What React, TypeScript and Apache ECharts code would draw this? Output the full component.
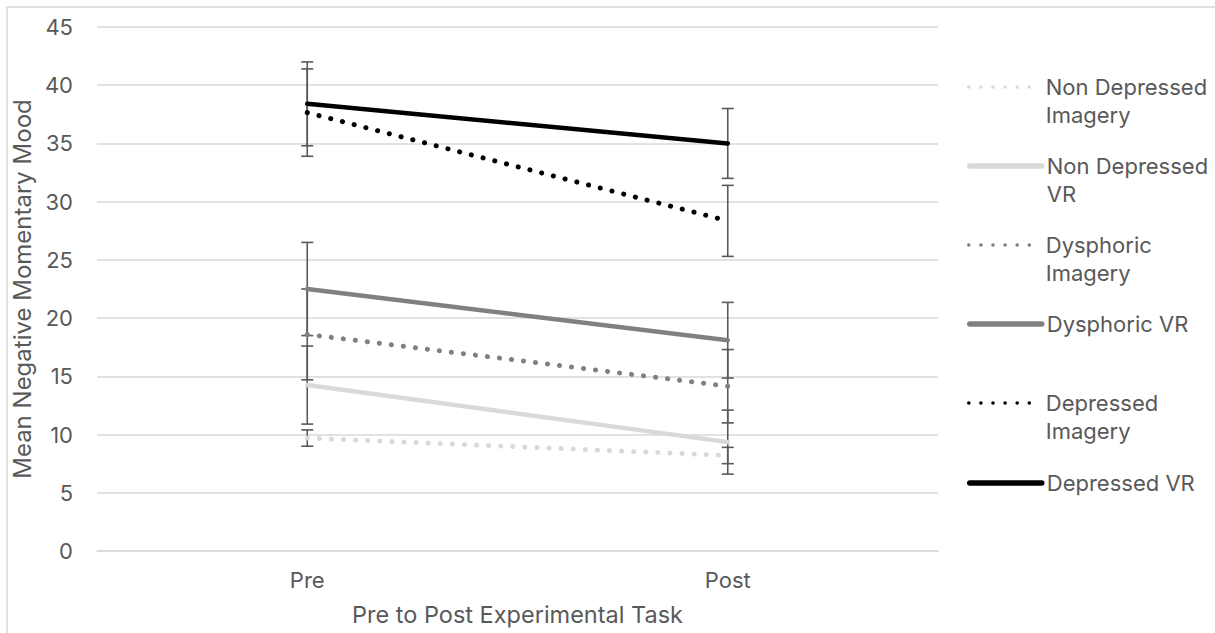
import React, { useEffect, useRef } from "react";
import * as echarts from "echarts";

// ---- Data ----
const categories = ["Pre", "Post"];
const yTicks = { min: 0, max: 45, interval: 5 };

const seriesNames = [
  "Non Depressed Imagery",
  "Non Depressed VR",
  "Dysphoric Imagery",
  "Dysphoric VR",
  "Depressed Imagery",
  "Depressed VR",
];
const legendLabels = [
  "Non Depressed\nImagery",
  "Non Depressed\nVR",
  "Dysphoric\nImagery",
  "Dysphoric VR",
  "Depressed\nImagery",
  "Depressed VR",
];

const nonDepImagery = [9.7, 8.2];
const nonDepImageryErr = [0.7, 0.7];
const nonDepVR = [14.25, 9.35];
const nonDepVRErr = [3.35, 2.75];
const dysImagery = [18.6, 14.15];
const dysImageryErr = [3.9, 3.15];
const dysVR = [22.5, 18.1];
const dysVRErr = [4.0, 3.25];
const depImagery = [37.65, 28.35];
const depImageryErr = [3.75, 3.05];
const depVR = [38.4, 35.0];
const depVRErr = [3.6, 3.0];

const seriesValues = [nonDepImagery, nonDepVR, dysImagery, dysVR, depImagery, depVR];
const seriesErrors = [nonDepImageryErr, nonDepVRErr, dysImageryErr, dysVRErr, depImageryErr, depVRErr];

// ---- Styles ----
const colors = ["#d9d9d9", "#d9d9d9", "#808080", "#808080", "#000000", "#000000"];
const dotted = [true, false, true, false, true, false];
const legendSymbolY = [87, 166, 245, 324, 403, 483];
const FONT = "Inter, 'Noto Sans', sans-serif";
const TEXT = "#595959";
const GRID = "#d9d9d9";

function buildOption() {
  const lineSeries = seriesNames.map((name, i) => ({
    name,
    type: "line",
    data: seriesValues[i],
    symbol: "none",
    z: 3,
    lineStyle: {
      color: colors[i],
      width: dotted[i] ? 5 : 4.5,
      type: dotted[i] ? [0.1, 12] : "solid",
      cap: "round",
    },
    itemStyle: { color: colors[i] },
  }));

  const errSeries = seriesNames.map((name, i) => ({
    name: name + " error",
    type: "custom",
    z: 2,
    data: seriesValues[i].map((v, k) => [k, v - seriesErrors[i][k], v + seriesErrors[i][k]]),
    encode: { x: 0, y: [1, 2] },
    renderItem: (params: any, api: any) => {
      const x = api.value(0);
      const lo = api.coord([x, api.value(1)]);
      const hi = api.coord([x, api.value(2)]);
      const hw = 6;
      const style = { stroke: "#595959", lineWidth: 1.6 };
      return {
        type: "group",
        children: [
          { type: "line", shape: { x1: lo[0], y1: lo[1], x2: hi[0], y2: hi[1] }, style },
          { type: "line", shape: { x1: lo[0] - hw, y1: lo[1], x2: lo[0] + hw, y2: lo[1] }, style },
          { type: "line", shape: { x1: hi[0] - hw, y1: hi[1], x2: hi[0] + hw, y2: hi[1] }, style },
        ],
      };
    },
  }));

  const legends = seriesNames.map((name, i) => {
    const lines = legendLabels[i].split("\n").length;
    // multi-line labels: an empty first line keeps the icon level with the first text line
    const label = lines > 1 ? "\n" + legendLabels[i] : legendLabels[i];
    const blockH = (lines > 1 ? lines + 1 : 1) * 28;
    return {
      data: [name],
      orient: "vertical",
      left: 967,
      top: legendSymbolY[i] - blockH / 2,
      padding: 0,
      itemWidth: 72,
      itemHeight: 10,
      selectedMode: false,
      formatter: () => label,
      itemStyle: { opacity: 0 },
      lineStyle: { width: dotted[i] ? 3.5 : 5.5 },
      textStyle: {
        color: TEXT,
        fontSize: 22,
        fontFamily: FONT,
        lineHeight: 28,
      },
    };
  });

  return {
    animation: false,
    backgroundColor: "#ffffff",
    graphic: [
      {
        type: "rect",
        shape: { x: 7, y: 7, width: 1215, height: 640 },
        style: { fill: "none", stroke: GRID, lineWidth: 1.5 },
        silent: true,
      },
    ],
    grid: { left: 97, right: 277, top: 27, bottom: 82 },
    legend: legends,
    xAxis: {
      type: "category",
      data: categories,
      boundaryGap: true,
      name: "Pre to Post Experimental Task",
      nameLocation: "middle",
      nameGap: 51,
      nameTextStyle: { color: TEXT, fontSize: 23.5, fontFamily: FONT },
      axisLine: { show: true, lineStyle: { color: GRID, width: 1.5 } },
      axisTick: { show: false },
      axisLabel: { color: TEXT, fontSize: 22, fontFamily: FONT, margin: 18 },
    },
    yAxis: {
      type: "value",
      min: yTicks.min,
      max: yTicks.max,
      interval: yTicks.interval,
      name: "Mean Negative Momentary Mood",
      nameLocation: "middle",
      nameGap: 45,
      nameTextStyle: { color: TEXT, fontSize: 24, fontFamily: FONT },
      axisLine: { show: false },
      axisTick: { show: false },
      axisLabel: { color: TEXT, fontSize: 22, fontFamily: FONT, margin: 24 },
      splitLine: { lineStyle: { color: GRID, width: 1.5 } },
    },
    series: [...errSeries, ...lineSeries],
  };
}

export default function App() {
  const ref = useRef<HTMLDivElement>(null);
  useEffect(() => {
    document.body.style.margin = "0";
    const chart = echarts.init(ref.current as HTMLDivElement, null, { renderer: "svg" });
    chart.setOption(buildOption() as any);
    return () => chart.dispose();
  }, []);
  return <div ref={ref} style={{ width: 1215, height: 633 }} />;
}
